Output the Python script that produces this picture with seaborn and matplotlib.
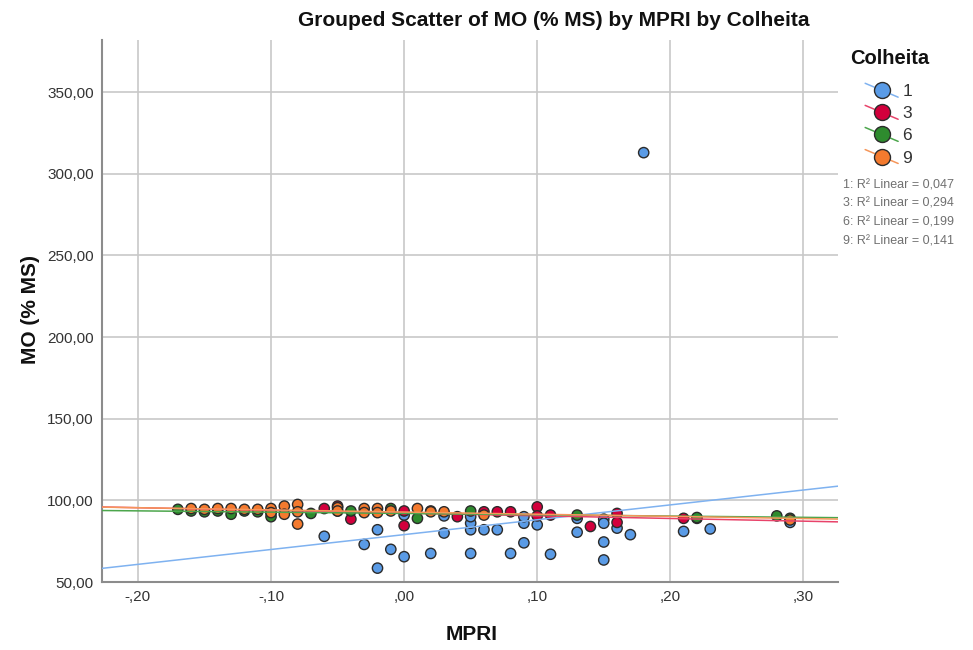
import matplotlib
matplotlib.use("Agg")
import matplotlib.pyplot as plt
from matplotlib.lines import Line2D
from matplotlib.legend_handler import HandlerBase
import seaborn as sns
import pandas as pd

# ---- data ----
mpri_1 = [-0.10, -0.05, -0.06, -0.03, -0.02, -0.02, -0.01, 0.00, 0.00, 0.02, 0.03, 0.03, 0.05, 0.05,
          0.05, 0.05, 0.06, 0.07, 0.08, 0.09, 0.09, 0.09, 0.10, 0.11, 0.13, 0.13, 0.15, 0.15,
          0.15, 0.15, 0.16, 0.17, 0.18, 0.21, 0.22, 0.23, 0.29]
mo_1 = [92.5, 93.5, 78, 73, 82, 58.5, 70, 65.5, 91, 67.5, 80, 90.5, 67.5, 82,
        86, 90, 82, 82, 67.5, 74, 86, 90, 85, 67, 80.5, 89, 88.5, 86,
        74.5, 63.5, 83, 79, 313, 81, 89, 82.5, 86.5]

mpri_3 = [-0.06, -0.05, -0.04, 0.00, 0.00, 0.02, 0.04, 0.06, 0.07, 0.08, 0.10, 0.10, 0.11, 0.14,
          0.16, 0.16, 0.21]
mo_3 = [95, 96.5, 88.5, 93.5, 84.5, 93.5, 90, 93, 93, 93, 96, 90.5, 91, 84,
        92, 86.5, 89]

mpri_6 = [-0.17, -0.16, -0.15, -0.14, -0.13, -0.12, -0.11, -0.10, -0.07, -0.04, -0.01, 0.01, 0.05,
          0.13, 0.22, 0.28, 0.29]
mo_6 = [94.5, 93.5, 93, 93.5, 91.5, 93.5, 93, 90, 92, 93.5, 95, 89, 93.5,
        91, 89.5, 90.5, 89]

mpri_9 = [-0.16, -0.15, -0.14, -0.13, -0.12, -0.11, -0.10, -0.10, -0.09, -0.09, -0.08, -0.08, -0.08,
          -0.05, -0.05, -0.03, -0.03, -0.02, -0.02, -0.01, 0.01, 0.02, 0.03, 0.06, 0.29]
mo_9 = [95, 94.5, 95, 95, 94.5, 94.5, 95, 92.5, 96.5, 91.5, 97.5, 93, 85.5,
        95.5, 93.5, 95, 92.5, 95, 92.5, 93.5, 95, 93, 93, 91, 88]

groups = ["1", "3", "6", "9"]
legend_title = "Colheita"
r2_labels = ["1: R² Linear = 0,047", "3: R² Linear = 0,294",
             "6: R² Linear = 0,199", "9: R² Linear = 0,141"]
xticks = [-0.20, -0.10, 0.00, 0.10, 0.20, 0.30]
xticklabels = ["-,20", "-,10", ",00", ",10", ",20", ",30"]
yticks = [50, 100, 150, 200, 250, 300, 350]
yticklabels = ["50,00", "100,00", "150,00", "200,00", "250,00", "300,00", "350,00"]

df = pd.concat([
    pd.DataFrame({"MPRI": mpri_1, "MO": mo_1, "Colheita": "1"}),
    pd.DataFrame({"MPRI": mpri_3, "MO": mo_3, "Colheita": "3"}),
    pd.DataFrame({"MPRI": mpri_6, "MO": mo_6, "Colheita": "6"}),
    pd.DataFrame({"MPRI": mpri_9, "MO": mo_9, "Colheita": "9"}),
], ignore_index=True)

# ---- style ----
sns.set_theme(style="white")
plt.rcParams["font.family"] = ["Liberation Sans", "DejaVu Sans"]

point_colors = {"1": "#5A9BE6", "3": "#D2003C", "6": "#2E8B2E", "9": "#F47A2E"}
line_colors = {"1": "#7FB2F0", "3": "#E8436A", "6": "#4CA64C", "9": "#F5965A"}

fig = plt.figure(figsize=(9.73, 6.5), dpi=100)
ax = fig.add_axes([102 / 973, 1 - 582 / 650, (838 - 102) / 973, (582 - 40) / 650])
ax.set_xlim(-0.227, 0.326)
ax.set_ylim(50, 382)

ax.set_xticks(xticks)
ax.set_xticklabels(xticklabels)
ax.set_yticks(yticks)
ax.set_yticklabels(yticklabels)
ax.grid(True, color="#C8C8C8", linewidth=1.2)
ax.set_axisbelow(True)

sns.scatterplot(data=df, x="MPRI", y="MO", hue="Colheita", palette=point_colors,
                hue_order=groups, s=55, edgecolor="#2B2B2B", linewidth=1.0,
                legend=False, zorder=3, ax=ax)

for g in groups:
    sub = df[df["Colheita"] == g]
    sns.regplot(data=sub, x="MPRI", y="MO", scatter=False, ci=None, truncate=False,
                color=line_colors[g], line_kws={"linewidth": 1.1, "zorder": 4}, ax=ax)
ax.set_xlim(-0.227, 0.326)

for side in ["top", "right"]:
    ax.spines[side].set_visible(False)
for side in ["left", "bottom"]:
    ax.spines[side].set_color("#8C8C8C")
    ax.spines[side].set_linewidth(1.5)

ax.tick_params(axis="both", labelsize=11, colors="#333333", length=0, pad=6)
ax.set_xlabel("")
ax.set_ylabel("")

fig.text(472 / 973, 1 - 635 / 650, "MPRI", ha="center", va="center",
         fontsize=15, fontweight="bold", color="#111111")
fig.text(30 / 973, 1 - 309 / 650, "MO (% MS)", ha="center", va="center",
         fontsize=15, fontweight="bold", rotation=90, color="#111111")
fig.text(554 / 973, 1 - 21 / 650, "Grouped Scatter of MO (% MS) by MPRI by Colheita",
         ha="center", va="center", fontsize=15, fontweight="bold", color="#111111")


# ---- legend with diagonal line through the marker ----
class DiagHandler(HandlerBase):
    def create_artists(self, legend, orig_handle, xdescent, ydescent, width, height,
                       fontsize, trans):
        x0, y0 = -xdescent, -ydescent
        cy = y0 + height / 2.0
        line = Line2D([x0, x0 + width], [cy + 5, cy - 5], color=orig_handle.get_color(),
                      linewidth=1.1, transform=trans)
        mark = Line2D([x0 + width / 2.0], [cy], marker="o", markersize=11.5,
                      markerfacecolor=orig_handle.get_markerfacecolor(),
                      markeredgecolor="#2B2B2B", markeredgewidth=1.0,
                      linestyle="none", transform=trans)
        return [line, mark]


fig.text(850 / 973, 1 - 59 / 650, legend_title, ha="left", va="center",
         fontsize=14.5, fontweight="bold", color="#111111")

handles = [Line2D([0], [0], color=line_colors[g], marker="o",
                  markerfacecolor=point_colors[g]) for g in groups]
leg = fig.legend(handles, groups, loc="upper left",
                 bbox_to_anchor=(853 / 973, 1 - 72 / 650), frameon=False,
                 fontsize=12.5, handlelength=1.9, labelspacing=0.4, handletextpad=0.25,
                 borderpad=0.2, handler_map={Line2D: DiagHandler()})
for t in leg.get_texts():
    t.set_color("#333333")

for i, t in enumerate(r2_labels):
    fig.text(843 / 973, 1 - (185 + i * 18.7) / 650, t, ha="left", va="center",
             fontsize=9, color="#707070")

fig.savefig("out.png", dpi=100)
